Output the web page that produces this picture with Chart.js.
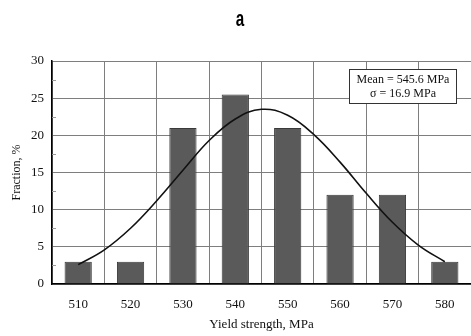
<!DOCTYPE html>
<html>
<head>
<meta charset="utf-8">
<script src="https://cdn.jsdelivr.net/npm/chart.js@4/dist/chart.umd.min.js"></script>
<style>
  html, body { margin: 0; padding: 0; background: #fff; overflow: hidden; }
  #wrap { position: relative; width: 471px; height: 336px; }
</style>
</head>
<body>
<div id="wrap"><canvas id="chart"></canvas></div>
<script>
// Yield strength histogram with fitted normal curve

const PANEL = 'a';
const STRENGTH = ['510', '520', '530', '540', '550', '560', '570', '580'];
const FRACTION = [3, 3, 21, 25.5, 21, 12, 12, 3];

// fitted curve, read every 5 MPa
const FIT_X = [510, 515, 520, 525, 530, 535, 540, 545, 550, 555, 560, 565, 570, 575, 580];
const FIT_Y = [2.6, 4.6, 7.5, 11.2, 15.3, 19.3, 22.2, 23.5, 22.7, 20.1, 16.4, 12.2, 8.3, 5.2, 3.0];

const MEAN = 545.6;
const SIGMA = 16.9;

const Y_TICKS = [0, 5, 10, 15, 20, 25, 30];

const SERIF = "'Liberation Serif', 'Times New Roman', serif";
const GRID = '#7e7e7e';

// bold panel letter, drawn a little tall and narrow
const panelLabel = {
  id: 'panelLabel',
  afterDraw(chart) {
    const ctx = chart.ctx;
    ctx.save();
    ctx.translate(240, 26);
    ctx.scale(0.95, 1.35);
    ctx.fillStyle = '#000';
    ctx.font = "bold 16px 'Liberation Sans', Arial, sans-serif";
    ctx.textAlign = 'center';
    ctx.textBaseline = 'alphabetic';
    ctx.fillText(PANEL, 0, 0);
    ctx.restore();
  }
};

// short minor ticks inside the y axis, halfway between labels
const minorTicks = {
  id: 'minorTicks',
  afterDatasetsDraw(chart) {
    const y = chart.scales.y;
    const ctx = chart.ctx;
    ctx.save();
    ctx.strokeStyle = '#9a9a9a';
    ctx.lineWidth = 1;
    for (let i = 0; i < Y_TICKS.length - 1; i++) {
      const py = Math.round(y.getPixelForValue((Y_TICKS[i] + Y_TICKS[i + 1]) / 2)) + 0.5;
      ctx.beginPath();
      ctx.moveTo(y.right, py);
      ctx.lineTo(y.right + 4, py);
      ctx.stroke();
    }
    ctx.restore();
  }
};

// mean / sigma box in the upper right
const statsBox = {
  id: 'statsBox',
  afterDraw(chart) {
    const ctx = chart.ctx;
    const x0 = 349.5, y0 = 69.5, w = 107, h = 34;
    ctx.save();
    ctx.fillStyle = '#fff';
    ctx.fillRect(x0, y0, w, h);
    ctx.strokeStyle = '#333';
    ctx.lineWidth = 1;
    ctx.strokeRect(x0, y0, w, h);
    ctx.fillStyle = '#111';
    ctx.font = '12px ' + SERIF;
    ctx.textAlign = 'center';
    ctx.textBaseline = 'middle';
    ctx.fillText('Mean = ' + MEAN.toFixed(1) + ' MPa', x0 + w / 2, y0 + 10);
    ctx.fillText('\u03c3 = ' + SIGMA.toFixed(1) + ' MPa', x0 + w / 2, y0 + 24);
    ctx.restore();
  }
};

new Chart(document.getElementById('chart'), {
  type: 'bar',
  data: {
    labels: STRENGTH,
    datasets: [
      {
        type: 'line',
        label: 'Normal fit',
        data: FIT_X.map((x, i) => ({ x, y: FIT_Y[i] })),
        xAxisID: 'xFit',
        borderColor: '#111',
        borderWidth: 1.6,
        pointRadius: 0,
        tension: 0.4,
        fill: false,
        order: 0,
      },
      {
        label: 'Fraction',
        data: FRACTION,
        xAxisID: 'x',
        backgroundColor: '#5a5a5a',
        borderColor: '#3a3a3a',
        borderWidth: 1,
        grouped: false,
        barPercentage: 0.52,
        categoryPercentage: 1,
        order: 1,
      },
    ],
  },
  options: {
    responsive: true,
    maintainAspectRatio: false,
    animation: false,
    layout: { padding: { top: 61, right: 0, bottom: 0, left: 0 } },
    plugins: {
      legend: { display: false },
      tooltip: { enabled: false },
    },
    scales: {
      x: {
        type: 'category',
        offset: true,
        grid: { color: GRID, lineWidth: 1, offset: true, drawTicks: false },
        border: { color: '#000', width: 1.5 },
        ticks: { color: '#111', font: { family: SERIF, size: 13 }, padding: 13, maxRotation: 0 },
        title: { display: true, text: 'Yield strength, MPa', color: '#111',
                 font: { family: SERIF, size: 13 }, padding: { top: 0, bottom: 4 } },
        afterFit: s => { s.height = 52; },
      },
      // hidden linear axis for the fitted curve, same span as the categories
      xFit: {
        type: 'linear',
        display: false,
        offset: false,
        min: 505,
        max: 585,
      },
      y: {
        min: 0,
        max: 30,
        afterBuildTicks: s => { s.ticks = Y_TICKS.map(v => ({ value: v })); },
        grid: { color: GRID, lineWidth: 1, drawTicks: false },
        border: { color: '#000', width: 1.5 },
        ticks: { color: '#111', font: { family: SERIF, size: 13 }, padding: 8 },
        title: { display: true, text: 'Fraction, %', color: '#111',
                 font: { family: SERIF, size: 12 }, padding: { top: 10, bottom: 0 } },
        afterFit: s => { s.width = 52; },
      },
    },
  },
  plugins: [panelLabel, minorTicks, statsBox],
});
</script>
</body>
</html>
